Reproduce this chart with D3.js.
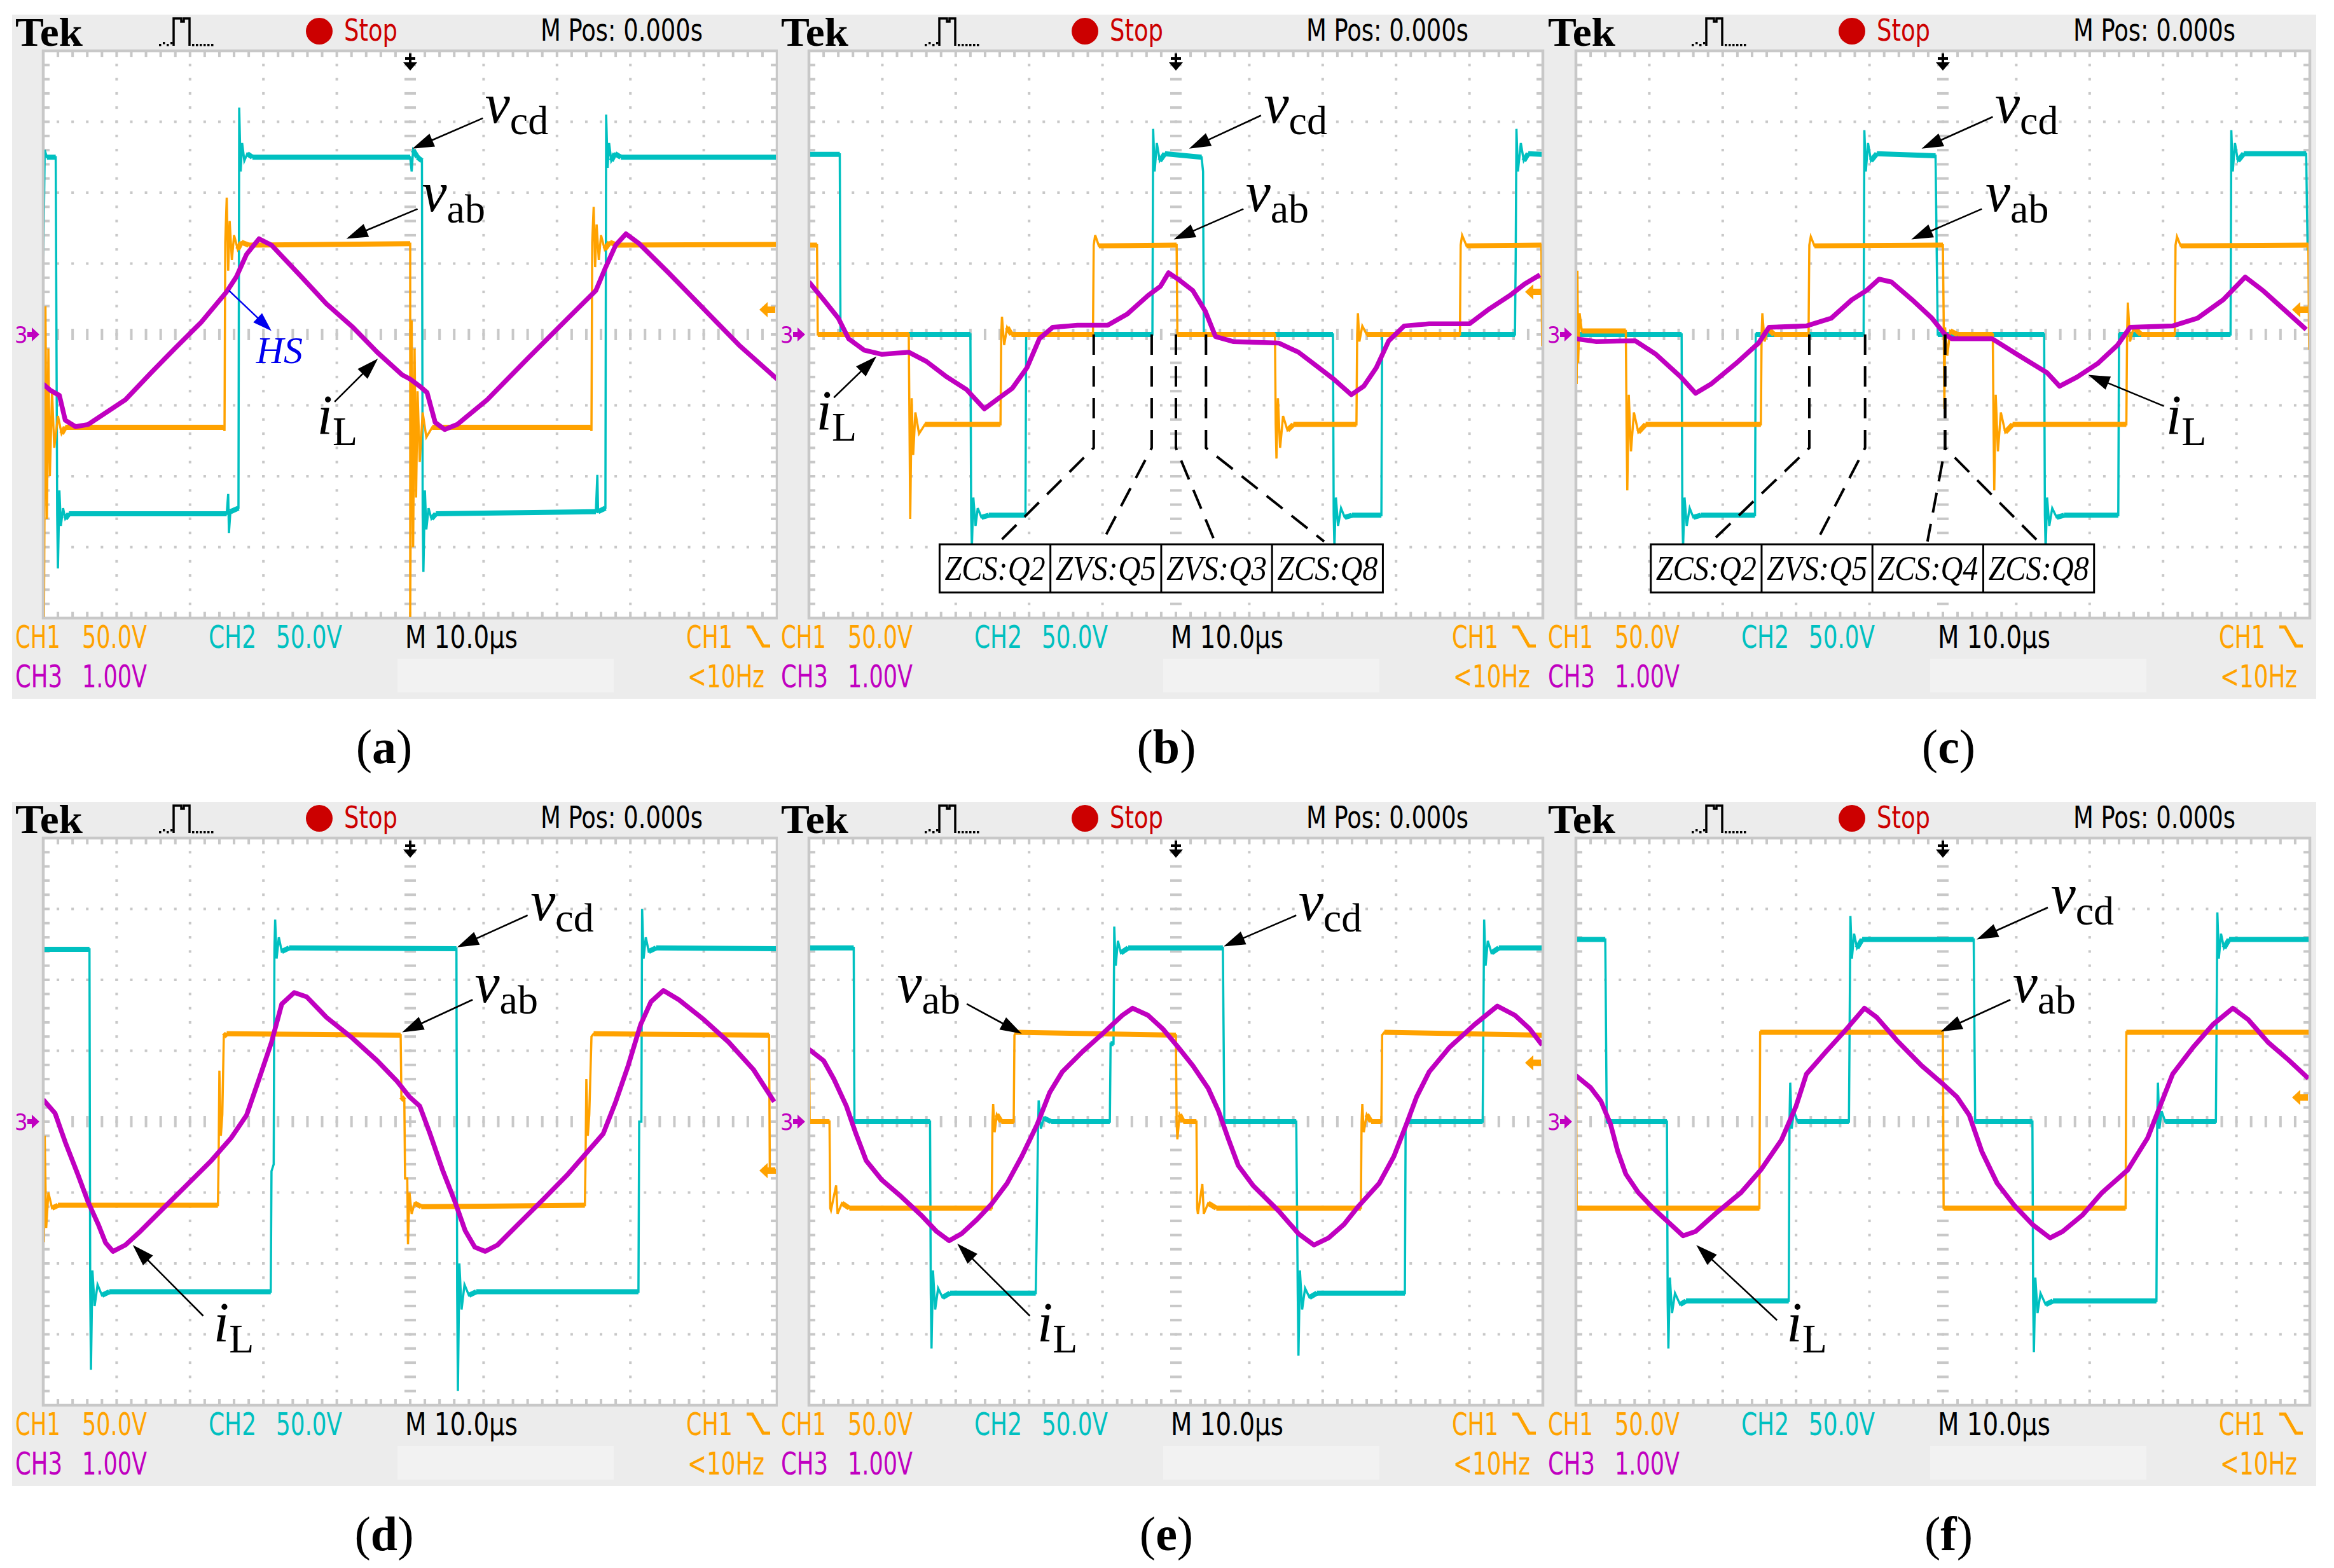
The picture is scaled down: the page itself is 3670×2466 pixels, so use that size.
<!DOCTYPE html>
<html><head><meta charset="utf-8">
<script src="https://cdn.jsdelivr.net/npm/d3@7"></script>
<style>body{margin:0;background:#fff}svg{display:block}</style>
</head><body>
<svg id="c" width="3670" height="2466"></svg>
<script>
// ---------- DATA (time in divisions 0..10, amplitude in divisions -4..4) ----------
const panelIds = ["a","b","c","d","e","f"];

const aCyan = [[0,0.9],[0.02,2.6],[0.05,2.5],[0.17,2.5],[0.19,-2.55],[0.2,-3.3],[0.22,-2.2],[0.24,-2.7],[0.27,-2.45],[0.3,-2.6],[0.35,-2.53],[2.5,-2.53],[2.52,-2.25],[2.53,-2.8],[2.55,-2.5],[2.66,-2.45],[2.67,3.2],[2.69,2.3],[2.71,2.7],[2.74,2.45],[2.78,2.55],[2.85,2.5],[5.0,2.5],[5.02,2.3],[5.04,2.6],[5.1,2.5],[5.16,2.45],[5.17,-2.55],[5.18,-3.35],[5.2,-2.2],[5.22,-2.75],[5.25,-2.45],[5.29,-2.6],[5.35,-2.53],[7.53,-2.5],[7.55,-1.98],[7.56,-2.5],[7.66,-2.45],[7.67,3.1],[7.69,2.35],[7.71,2.7],[7.74,2.45],[7.79,2.55],[7.87,2.5],[10,2.5]];
const aOrange = [[0,1.2],[0.01,-4],[0.03,0.4],[0.05,-2.6],[0.07,-0.2],[0.09,-2.0],[0.12,-0.8],[0.15,-1.6],[0.2,-1.15],[0.25,-1.4],[0.3,-1.31],[2.46,-1.31],[2.47,-1.36],[2.48,1.3],[2.5,1.93],[2.52,0.9],[2.54,1.6],[2.57,1.05],[2.6,1.4],[2.65,1.2],[2.7,1.3],[2.8,1.26],[5.0,1.28],[5.0,-4.0],[5.02,0.2],[5.04,-3.0],[5.06,-0.2],[5.08,-2.3],[5.1,-0.8],[5.13,-1.8],[5.17,-1.1],[5.22,-1.45],[5.3,-1.31],[7.46,-1.31],[7.47,-1.36],[7.48,1.3],[7.5,1.8],[7.52,0.95],[7.54,1.55],[7.57,1.05],[7.6,1.4],[7.65,1.2],[7.72,1.3],[7.82,1.26],[10,1.27]];
const aMagenta = [[0,-0.7],[0.1,-0.79],[0.22,-0.86],[0.3,-1.21],[0.44,-1.3],[0.61,-1.27],[1.12,-0.92],[1.47,-0.54],[1.81,-0.18],[2.15,0.17],[2.49,0.59],[2.63,0.81],[2.77,1.13],[2.94,1.35],[3.11,1.26],[3.52,0.81],[3.86,0.43],[4.21,0.11],[4.55,-0.25],[4.89,-0.57],[5.0,-0.63],[5.13,-0.73],[5.23,-0.82],[5.34,-1.24],[5.47,-1.34],[5.64,-1.27],[6.05,-0.92],[6.6,-0.34],[7.15,0.23],[7.53,0.62],[7.66,0.94],[7.8,1.26],[7.94,1.42],[8.11,1.29],[8.52,0.87],[9.0,0.36],[9.48,-0.15],[10,-0.63]];

const bCyan = [[0,2.54],[0.42,2.54],[0.43,0],[2.2,0],[2.21,-2.55],[2.22,-3.0],[2.24,-2.3],[2.27,-2.7],[2.3,-2.45],[2.35,-2.58],[2.45,-2.55],[2.95,-2.55],[2.96,0],[4.68,0],[4.69,2.9],[4.71,2.3],[4.74,2.7],[4.78,2.45],[4.85,2.55],[5.35,2.5],[5.37,2.3],[5.38,0],[7.14,0],[7.15,-2.55],[7.16,-3.0],[7.18,-2.3],[7.21,-2.7],[7.25,-2.45],[7.3,-2.58],[7.4,-2.55],[7.8,-2.55],[7.81,0],[9.62,0],[9.63,1.1],[9.64,2.9],[9.66,2.3],[9.7,2.7],[9.74,2.45],[9.8,2.55],[10,2.54]];
const bOrange = [[0,1.26],[0.11,1.26],[0.12,0],[1.36,0],[1.37,-1.27],[1.38,-2.6],[1.4,-0.9],[1.42,-1.7],[1.45,-1.1],[1.5,-1.4],[1.58,-1.27],[2.61,-1.27],[2.62,0],[2.63,0.25],[2.66,-0.15],[2.7,0.1],[2.76,0],[3.87,0],[3.88,1.26],[3.9,1.4],[3.95,1.25],[5.01,1.26],[5.02,0],[6.35,0],[6.36,-1.27],[6.37,-1.75],[6.39,-0.9],[6.42,-1.6],[6.46,-1.15],[6.52,-1.35],[6.6,-1.27],[7.46,-1.27],[7.47,0],[7.48,0.3],[7.5,-0.1],[7.54,0.12],[7.6,0],[8.87,0],[8.88,1.26],[8.9,1.4],[8.96,1.25],[9.98,1.26],[9.99,-0.15],[10,-0.15]];
const bMagenta = [[0,0.74],[0.2,0.49],[0.4,0.23],[0.54,-0.06],[0.75,-0.22],[0.99,-0.28],[1.36,-0.25],[1.6,-0.38],[1.88,-0.6],[2.15,-0.78],[2.39,-1.05],[2.56,-0.92],[2.77,-0.76],[2.97,-0.47],[3.14,-0.06],[3.32,0.1],[3.66,0.13],[4.07,0.13],[4.34,0.29],[4.62,0.55],[4.79,0.68],[4.9,0.87],[5.03,0.78],[5.23,0.62],[5.4,0.33],[5.54,-0.03],[5.78,-0.1],[6.4,-0.12],[6.67,-0.25],[6.95,-0.47],[7.15,-0.63],[7.39,-0.85],[7.56,-0.73],[7.73,-0.47],[7.9,-0.09],[8.11,0.12],[8.45,0.15],[9.0,0.15],[9.27,0.36],[9.55,0.55],[9.75,0.71],[9.96,0.84]];

const cCyan = [[0,0],[1.44,0],[1.45,-2.55],[1.46,-3.0],[1.48,-2.3],[1.51,-2.7],[1.55,-2.45],[1.6,-2.58],[1.7,-2.55],[2.44,-2.55],[2.45,0],[3.92,0],[3.93,2.88],[3.95,2.3],[3.98,2.7],[4.02,2.45],[4.1,2.55],[4.9,2.52],[4.93,0],[6.38,0],[6.39,-2.55],[6.4,-3.05],[6.42,-2.3],[6.45,-2.7],[6.49,-2.45],[6.55,-2.58],[6.65,-2.55],[7.39,-2.55],[7.4,0],[8.92,0],[8.93,2.88],[8.95,2.3],[8.98,2.7],[9.02,2.45],[9.1,2.55],[9.95,2.55],[9.97,1.2],[10,1.2]];
const cOrange = [[0,1.3],[0.01,-0.7],[0.02,0.9],[0.03,-0.4],[0.05,0.3],[0.08,0.05],[0.68,0.05],[0.69,-1.27],[0.7,-2.2],[0.72,-0.85],[0.75,-1.65],[0.79,-1.1],[0.85,-1.38],[0.95,-1.27],[2.52,-1.27],[2.53,0],[2.54,0.3],[2.57,-0.1],[2.62,0.08],[2.7,0],[3.17,0],[3.18,1.26],[3.2,1.38],[3.25,1.25],[5.0,1.26],[5.01,0.3],[5.02,-1.05],[5.03,0.1],[5.06,-0.3],[5.1,0.05],[5.2,0],[5.68,0],[5.69,-1.27],[5.7,-2.2],[5.72,-0.85],[5.75,-1.65],[5.79,-1.1],[5.85,-1.38],[5.95,-1.27],[7.5,-1.27],[7.51,0],[7.52,0.45],[7.55,-0.1],[7.6,0.1],[7.7,0],[8.16,0],[8.17,1.26],[8.19,1.38],[8.24,1.25],[9.98,1.26],[9.99,-0.2],[10,-0.2]];
const cMagenta = [[0,-0.06],[0.27,-0.1],[0.81,-0.09],[1.09,-0.28],[1.43,-0.6],[1.63,-0.83],[1.84,-0.7],[2.18,-0.41],[2.49,-0.12],[2.63,0.1],[3.14,0.12],[3.48,0.23],[3.76,0.49],[3.96,0.62],[4.13,0.78],[4.3,0.74],[4.58,0.49],[4.85,0.23],[5.02,0.01],[5.12,-0.06],[5.67,-0.06],[6.01,-0.28],[6.42,-0.54],[6.59,-0.73],[6.83,-0.6],[7.11,-0.41],[7.38,-0.15],[7.55,0.1],[8.13,0.12],[8.47,0.23],[8.82,0.49],[9.12,0.81],[9.36,0.62],[9.64,0.36],[9.95,0.07]];

const dCyan = [[0,2.43],[0.63,2.43],[0.64,-2.4],[0.65,-3.5],[0.67,-2.1],[0.7,-2.6],[0.74,-2.3],[0.8,-2.45],[0.9,-2.4],[3.1,-2.4],[3.11,-0.7],[3.14,-0.6],[3.15,2.44],[3.16,2.85],[3.18,2.3],[3.21,2.6],[3.25,2.4],[3.35,2.45],[5.63,2.44],[5.64,-2.4],[5.65,-3.8],[5.67,-2.0],[5.7,-2.65],[5.74,-2.3],[5.8,-2.45],[5.9,-2.4],[8.11,-2.4],[8.12,0],[8.15,0],[8.16,3.0],[8.18,2.3],[8.21,2.6],[8.25,2.4],[8.35,2.45],[10,2.44]];
const dOrange = [[0,0.74],[0.01,-1.7],[0.02,-0.2],[0.04,-1.5],[0.07,-1.0],[0.12,-1.22],[0.2,-1.18],[2.38,-1.18],[2.39,-0.5],[2.4,0.72],[2.42,-0.2],[2.44,0.1],[2.46,1.2],[2.5,1.24],[4.87,1.22],[4.88,0.35],[4.92,0.3],[4.93,-0.8],[4.96,-0.8],[4.97,-1.73],[4.99,-1.0],[5.02,-1.3],[5.06,-1.15],[5.15,-1.2],[7.38,-1.18],[7.39,-0.5],[7.4,0.6],[7.42,-0.2],[7.44,0.1],[7.47,1.2],[7.5,1.24],[9.89,1.22],[9.9,-0.7],[10,-0.7]];
const dMagenta = [[0,0.31],[0.16,0.12],[0.3,-0.29],[0.47,-0.74],[0.61,-1.13],[0.75,-1.45],[0.85,-1.71],[0.95,-1.83],[1.12,-1.74],[1.33,-1.54],[1.6,-1.26],[1.95,-0.9],[2.29,-0.55],[2.56,-0.23],[2.77,0.09],[2.94,0.6],[3.11,1.12],[3.25,1.66],[3.42,1.82],[3.59,1.76],[3.86,1.47],[4.21,1.18],[4.55,0.86],[4.82,0.57],[4.99,0.35],[5.13,0.22],[5.27,-0.17],[5.44,-0.68],[5.61,-1.13],[5.75,-1.54],[5.88,-1.77],[6.02,-1.83],[6.19,-1.74],[6.47,-1.45],[6.81,-1.1],[7.15,-0.74],[7.42,-0.42],[7.63,-0.17],[7.8,0.28],[7.97,0.79],[8.14,1.37],[8.28,1.69],[8.45,1.85],[8.66,1.72],[9.0,1.44],[9.34,1.12],[9.68,0.73],[9.96,0.28]];

const eCyan = [[0,2.45],[0.61,2.45],[0.62,0],[1.65,0],[1.66,-2.42],[1.67,-3.2],[1.69,-2.1],[1.72,-2.65],[1.76,-2.35],[1.82,-2.48],[1.92,-2.42],[3.09,-2.42],[3.1,-1.8],[3.12,-0.2],[3.13,0.3],[3.16,-0.1],[3.2,0.05],[3.3,0],[4.1,0],[4.11,1.1],[4.15,1.1],[4.16,2.75],[4.18,2.2],[4.21,2.55],[4.25,2.38],[4.35,2.45],[5.64,2.45],[5.66,0],[6.64,0],[6.66,-2.42],[6.67,-3.3],[6.69,-2.1],[6.72,-2.65],[6.76,-2.35],[6.82,-2.48],[6.92,-2.42],[8.12,-2.42],[8.13,-0.1],[8.16,0],[9.18,0],[9.2,2.85],[9.22,2.2],[9.25,2.55],[9.3,2.38],[9.4,2.45],[10,2.45]];
const eOrange = [[0,1.2],[0.01,0],[0.28,0],[0.29,-1.22],[0.3,-1.25],[0.37,-0.9],[0.39,-1.3],[0.45,-1.15],[0.55,-1.22],[2.49,-1.22],[2.5,0],[2.51,0.25],[2.53,-0.15],[2.56,0.1],[2.62,0],[2.79,0],[2.8,1.22],[2.82,1.26],[5.0,1.22],[5.01,0],[5.02,-0.25],[5.05,0.1],[5.1,0],[5.28,0],[5.29,-1.22],[5.3,-1.3],[5.36,-0.88],[5.38,-1.3],[5.44,-1.15],[5.55,-1.22],[7.52,-1.22],[7.53,0],[7.54,0.25],[7.56,-0.15],[7.6,0.1],[7.66,0],[7.8,0],[7.81,1.22],[7.84,1.26],[10,1.22]];
const eMagenta = [[0,1.02],[0.2,0.86],[0.34,0.6],[0.51,0.22],[0.64,-0.17],[0.78,-0.55],[0.99,-0.82],[1.26,-1.06],[1.53,-1.32],[1.74,-1.55],[1.91,-1.68],[2.08,-1.58],[2.29,-1.38],[2.49,-1.16],[2.7,-0.87],[2.9,-0.49],[3.11,-0.04],[3.28,0.41],[3.45,0.7],[3.73,0.99],[4.0,1.24],[4.27,1.5],[4.41,1.6],[4.62,1.5],[4.82,1.31],[5.03,1.05],[5.23,0.79],[5.44,0.47],[5.58,0.15],[5.71,-0.23],[5.85,-0.62],[6.05,-0.9],[6.4,-1.26],[6.67,-1.58],[6.88,-1.74],[7.08,-1.64],[7.29,-1.45],[7.49,-1.19],[7.77,-0.87],[7.97,-0.49],[8.14,-0.04],[8.28,0.35],[8.45,0.7],[8.73,1.05],[9.07,1.37],[9.38,1.63],[9.62,1.5],[9.82,1.31],[9.99,1.08]];

const fCyan = [[0,2.57],[0.4,2.57],[0.42,0],[1.24,0],[1.25,-2.53],[1.26,-3.2],[1.28,-2.2],[1.31,-2.7],[1.35,-2.42],[1.42,-2.58],[1.5,-2.53],[2.9,-2.53],[2.91,0],[2.92,0.55],[2.94,-0.1],[2.97,0.15],[3.02,0],[3.72,0],[3.74,2.9],[3.76,2.3],[3.79,2.65],[3.83,2.45],[3.9,2.57],[5.42,2.57],[5.44,0],[6.22,0],[6.23,-2.53],[6.24,-3.25],[6.26,-2.2],[6.29,-2.7],[6.33,-2.42],[6.4,-2.58],[6.5,-2.53],[7.91,-2.53],[7.92,0],[7.93,0.55],[7.95,-0.1],[7.98,0.15],[8.03,0],[8.72,0],[8.74,2.95],[8.76,2.3],[8.79,2.65],[8.83,2.45],[8.9,2.57],[10,2.57]];
const fOrange = [[0,1.26],[0.01,-1.22],[2.5,-1.22],[2.51,1.26],[5.0,1.26],[5.01,-1.22],[7.49,-1.22],[7.5,1.26],[10,1.26]];
const fMagenta = [[0,0.65],[0.2,0.48],[0.34,0.29],[0.47,-0.03],[0.57,-0.42],[0.68,-0.74],[0.85,-1.0],[1.05,-1.22],[1.26,-1.42],[1.46,-1.61],[1.63,-1.55],[1.91,-1.29],[2.25,-1.0],[2.52,-0.68],[2.8,-0.26],[3.0,0.22],[3.14,0.67],[3.41,0.99],[3.69,1.31],[3.93,1.6],[4.1,1.47],[4.37,1.15],[4.71,0.79],[4.99,0.54],[5.19,0.35],[5.36,0.09],[5.53,-0.42],[5.74,-0.87],[5.98,-1.19],[6.22,-1.45],[6.46,-1.64],[6.63,-1.55],[6.9,-1.32],[7.17,-1.0],[7.52,-0.68],[7.79,-0.23],[7.96,0.22],[8.13,0.67],[8.41,1.05],[8.68,1.37],[8.95,1.6],[9.16,1.44],[9.43,1.12],[9.71,0.87],[9.98,0.61]];

const cyanSeries = [aCyan,bCyan,cCyan,dCyan,eCyan,fCyan];
const orangeSeries = [aOrange,bOrange,cOrange,dOrange,eOrange,fOrange];
const magentaSeries = [aMagenta,bMagenta,cMagenta,dMagenta,eMagenta,fMagenta];
const triggerLevels = [0.35,0.6,0.35,-0.69,0.83,0.34];

// annotation anchors (divisions)
const vcdText = [[6.02,2.99],[6.2,2.99],[5.71,2.99],[6.64,2.84],[6.67,2.84],[6.47,2.94]];
const vcdArrow = [[5.99,3.05,5.03,2.62],[6.16,3.09,5.18,2.62],[5.68,3.07,4.71,2.62],[6.6,2.91,5.64,2.46],[6.64,2.91,5.65,2.47],[6.43,3.02,5.46,2.57]];
const vabText = [[5.16,1.74],[5.95,1.74],[5.58,1.74],[5.88,1.69],[1.2,1.69],[5.95,1.69]];
const vabArrow = [[5.1,1.77,4.13,1.35],[5.92,1.77,4.97,1.34],[5.53,1.77,4.57,1.34],[5.85,1.72,4.89,1.26],[2.15,1.66,2.9,1.24],[5.92,1.72,4.97,1.27]];
const iLText = [[3.73,-1.4],[0.1,-1.34],[8.04,-1.4],[2.32,-3.09],[3.11,-3.09],[2.87,-3.09]];
const iLArrow = [[3.97,-0.95,4.56,-0.34],[0.34,-0.89,0.92,-0.31],[8.01,-1.01,6.98,-0.57],[2.18,-2.74,1.22,-1.74],[3.01,-2.74,2.02,-1.72],[2.74,-2.8,1.64,-1.74]];
const hsText = [2.9,-0.4];
const hsArrow = [2.53,0.62,3.11,0.05];

// switching annotations: [vertical x, box end x]
const bDash = [[3.88,2.6],[4.67,4.0],[5.0,5.53],[5.41,7.02]];
const cDash = [[3.18,1.85],[3.94,3.28],[5.03,4.79],[5.03,6.3]];
const bBoxRange = [1.78,7.82];
const cBoxRange = [1.02,7.06];
const bBoxLabels = ["ZCS:Q2","ZVS:Q5","ZVS:Q3","ZCS:Q8"];
const cBoxLabels = ["ZCS:Q2","ZVS:Q5","ZCS:Q4","ZCS:Q8"];

// scope readout texts
const headerTexts = ["Tek","Stop","M Pos: 0.000s"];
const statusTexts = ["CH1","50.0V","CH2","50.0V","M 10.0\u00b5s","CH1","CH3","1.00V","<10Hz"];

// ---------- DRAWING ----------
const svg = d3.select("#c");
const ORANGE="#ffa200", CYAN="#00c0c0", MAGENTA="#c000c0", GRID="#c8c8c8", PANEL="#ececec", RED="#cc0000";
const serif = "'Liberation Serif','Times New Roman',serif";
const scopeFont = "'Liberation Sans Narrow','DejaVu Sans Condensed','Liberation Sans',sans-serif";
const colL = [68,1272,2478], rowT = [80,1318];
const PW = 1154, PH = 892;

function arrow(g,x1,y1,x2,y2,col,hl=34,hw=11,sw=2.6){
  const dx=x2-x1, dy=y2-y1, len=Math.hypot(dx,dy), ux=dx/len, uy=dy/len;
  const bx=x2-ux*hl, by=y2-uy*hl;
  g.append("line").attr("x1",x1).attr("y1",y1).attr("x2",bx+ux*3).attr("y2",by+uy*3)
    .attr("stroke",col).attr("stroke-width",sw);
  g.append("polygon").attr("points",[[x2,y2],[bx-uy*hw,by+ux*hw],[bx+uy*hw,by-ux*hw]].map(p=>p.join(",")).join(" "))
    .attr("fill",col);
}
function subLabel(g,X,Y,main,sub){
  const t=g.append("text").attr("x",X).attr("y",Y).attr("font-family",serif).attr("fill","#000");
  t.append("tspan").attr("font-style","italic").attr("font-size",88).text(main);
  t.append("tspan").attr("font-size",64).attr("dy",18).text(sub);
}
function stext(g,str,x,y,w,col,size=50){
  return g.append("text").attr("x",x).attr("y",y).attr("font-family",scopeFont).attr("font-size",size)
    .attr("fill",col).attr("textLength",w).attr("lengthAdjust","spacingAndGlyphs").text(str);
}

panelIds.forEach((id,i)=>{
  const L=colL[i%3], T=rowT[Math.floor(i/3)];
  const x=d3.scaleLinear().domain([0,10]).range([L,L+PW]);
  const y=d3.scaleLinear().domain([-4,4]).range([T+PH,T]);
  const g=svg.append("g");
  // panel
  g.append("rect").attr("x",L-49).attr("y",T-57).attr("width",1213).attr("height",1076).attr("fill",PANEL);
  g.append("rect").attr("x",L+557).attr("y",T+956).attr("width",340).attr("height",53).attr("fill","#f2f2f2");
  // header
  g.append("text").attr("x",L-44).attr("y",T-8).attr("font-family",serif).attr("font-weight","bold")
    .attr("font-size",64).attr("textLength",106).attr("lengthAdjust","spacingAndGlyphs").text(headerTexts[0]);
  // pulse icon
  const px=L+182, pb=T-8, ptop=T-51;
  g.append("path").attr("d",`M${px+23},${pb} V${ptop} H${px+35} V${ptop+5} H${px+39} V${ptop} H${px+48} V${pb}`)
    .attr("fill","none").attr("stroke","#000").attr("stroke-width",3.5);
  d3.range(0,22,6).forEach(k=>g.append("rect").attr("x",px+k).attr("y",pb-3-(k%12?3:0)).attr("width",3.5).attr("height",3.5).attr("fill","#000"));
  d3.range(52,84,6).forEach(k=>g.append("rect").attr("x",px+k).attr("y",pb-3-(k%12?0:3)).attr("width",3.5).attr("height",3.5).attr("fill","#000"));
  g.append("circle").attr("cx",L+434).attr("cy",T-31).attr("r",21).attr("fill",RED);
  stext(g,headerTexts[1],L+473,T-16,84,RED,48);
  stext(g,headerTexts[2],L+782,T-16,255,"#000",48);
  // status rows
  const r1=T+939, r2=T+1001;
  stext(g,statusTexts[0],L-44,r1,71,ORANGE);
  stext(g,statusTexts[1],L+61,r1,102,ORANGE);
  stext(g,statusTexts[2],L+260,r1,75,CYAN);
  stext(g,statusTexts[3],L+366,r1,104,CYAN);
  stext(g,statusTexts[4],L+569,r1,177,"#000");
  stext(g,statusTexts[5],L+1011,r1,73,ORANGE);
  g.append("path").attr("d",`M${L+1106},${r1-33} H${L+1115} L${L+1132},${r1-3} H${L+1143}`)
    .attr("fill","none").attr("stroke",ORANGE).attr("stroke-width",5);
  stext(g,statusTexts[6],L-44,r2,74,MAGENTA);
  stext(g,statusTexts[7],L+61,r2,102,MAGENTA);
  stext(g,statusTexts[8],L+1013,r2,121,ORANGE);

  // plot area
  g.append("rect").attr("x",L).attr("y",T).attr("width",PW).attr("height",PH).attr("fill","#fff");
  const gg=g.append("g").attr("fill",GRID);
  for(let k=1;k<10;k++){ if(k===5) continue;
    for(let j=1;j<40;j++) gg.append("rect").attr("x",x(k)-2).attr("y",T+j*PH/40-2).attr("width",4).attr("height",4);
  }
  for(let k=-3;k<=3;k++){ if(k===0) continue;
    for(let j=1;j<50;j++) gg.append("rect").attr("x",L+j*PW/50-2).attr("y",y(k)-2).attr("width",4).attr("height",4);
  }
  for(let j=1;j<50;j++){
    gg.append("rect").attr("x",L+j*PW/50-2).attr("y",y(0)-9).attr("width",4).attr("height",18);
    gg.append("rect").attr("x",L+j*PW/50-2).attr("y",T).attr("width",4).attr("height",10);
    gg.append("rect").attr("x",L+j*PW/50-2).attr("y",T+PH-10).attr("width",4).attr("height",10);
  }
  for(let j=1;j<40;j++){
    gg.append("rect").attr("x",x(5)-9).attr("y",T+j*PH/40-2).attr("width",18).attr("height",4);
    gg.append("rect").attr("x",L).attr("y",T+j*PH/40-2).attr("width",10).attr("height",4);
    gg.append("rect").attr("x",L+PW-10).attr("y",T+j*PH/40-2).attr("width",10).attr("height",4);
  }
  g.append("rect").attr("x",L).attr("y",T).attr("width",PW).attr("height",PH).attr("fill","none")
    .attr("stroke",GRID).attr("stroke-width",4.5);

  // traces
  const clipId="clip"+id;
  g.append("clipPath").attr("id",clipId).append("rect").attr("x",L+2).attr("y",T+2).attr("width",PW-4).attr("height",PH-4);
  const tg=g.append("g").attr("clip-path",`url(#${clipId})`);
  const line=d3.line().x(d=>x(d[0])).y(d=>y(d[1]));
  const band=(data,col,w)=>{
    const segs=d3.pairs(data).filter(([p,q])=>Math.abs(q[0]-p[0])>0.04 && Math.abs(q[1]-p[1])<0.12);
    tg.selectAll(null).data(segs).enter().append("line")
      .attr("x1",d=>x(d[0][0])).attr("y1",d=>y(d[0][1])).attr("x2",d=>x(d[1][0])).attr("y2",d=>y(d[1][1]))
      .attr("stroke",col).attr("stroke-width",w);
  };
  tg.append("path").datum(cyanSeries[i]).attr("d",line).attr("fill","none").attr("stroke",CYAN).attr("stroke-width",3.5);
  band(cyanSeries[i],CYAN,8);
  tg.append("path").datum(orangeSeries[i]).attr("d",line).attr("fill","none").attr("stroke",ORANGE).attr("stroke-width",3.5);
  band(orangeSeries[i],ORANGE,8);
  tg.append("path").datum(magentaSeries[i]).attr("d",line).attr("fill","none").attr("stroke",MAGENTA)
    .attr("stroke-width",7.5).attr("stroke-linejoin","round");

  // markers
  const tx=x(5);
  g.append("path").attr("d",`M${tx},${T+4} V${T+20} M${tx-8},${T+12} H${tx+8}`).attr("stroke","#000").attr("stroke-width",4);
  g.append("polygon").attr("points",`${tx-11},${T+18} ${tx+11},${T+18} ${tx},${T+31}`).attr("fill","#000");
  g.append("text").attr("x",L-45).attr("y",y(0)+13).attr("font-family",scopeFont).attr("font-size",36)
    .attr("fill",MAGENTA).text("3");
  g.append("polygon").attr("points",`${L-25},${y(0)-4} ${L-18},${y(0)-4} ${L-18},${y(0)-11} ${L-6},${y(0)} ${L-18},${y(0)+11} ${L-18},${y(0)+4} ${L-25},${y(0)+4}`).attr("fill",MAGENTA);
  const ty=y(triggerLevels[i]);
  g.append("polygon").attr("points",`${L+PW-28},${ty} ${L+PW-15},${ty-12} ${L+PW-15},${ty-5} ${L+PW-3},${ty-5} ${L+PW-3},${ty+5} ${L+PW-15},${ty+5} ${L+PW-15},${ty+12}`).attr("fill",ORANGE);

  // annotations
  const ag=g.append("g");
  subLabel(ag,x(vcdText[i][0]),y(vcdText[i][1]),"v","cd");
  arrow(ag,x(vcdArrow[i][0]),y(vcdArrow[i][1]),x(vcdArrow[i][2]),y(vcdArrow[i][3]),"#000");
  subLabel(ag,x(vabText[i][0]),y(vabText[i][1]),"v","ab");
  arrow(ag,x(vabArrow[i][0]),y(vabArrow[i][1]),x(vabArrow[i][2]),y(vabArrow[i][3]),"#000");
  subLabel(ag,x(iLText[i][0]),y(iLText[i][1]),"i","L");
  arrow(ag,x(iLArrow[i][0]),y(iLArrow[i][1]),x(iLArrow[i][2]),y(iLArrow[i][3]),"#000");
  if(id==="a"){
    ag.append("text").attr("x",x(hsText[0])).attr("y",y(hsText[1])).attr("font-family",serif).attr("font-style","italic")
      .attr("font-size",60).attr("fill","#0000ee").text("HS");
    arrow(ag,x(hsArrow[0]),y(hsArrow[1]),x(hsArrow[2]),y(hsArrow[3]),"#0000ee",30,10,2.4);
  }
  if(id==="b"||id==="c"){
    const dash = id==="b"?bDash:cDash, rng=id==="b"?bBoxRange:cBoxRange, labs=id==="b"?bBoxLabels:cBoxLabels;
    dash.forEach(([vx,ex])=>{
      ag.append("path").attr("d",`M${x(vx)},${y(0)} V${y(-1.6)} L${x(ex)},${y(-2.92)}`)
        .attr("fill","none").attr("stroke","#000").attr("stroke-width",4).attr("stroke-dasharray","32,18");
    });
    const bw=(rng[1]-rng[0])/4;
    ag.append("rect").attr("x",x(rng[0])).attr("y",y(-2.96)).attr("width",x(rng[1])-x(rng[0])).attr("height",y(-3.64)-y(-2.96))
      .attr("fill","#fff").attr("stroke","#000").attr("stroke-width",3);
    labs.forEach((s,k)=>{
      const cx0=rng[0]+bw*k;
      if(k>0) ag.append("line").attr("x1",x(cx0)).attr("x2",x(cx0)).attr("y1",y(-2.96)).attr("y2",y(-3.64)).attr("stroke","#000").attr("stroke-width",3);
      ag.append("text").attr("x",x(cx0+bw/2)).attr("y",y(-3.46)).attr("text-anchor","middle").attr("font-family",serif)
        .attr("font-style","italic").attr("font-size",54).attr("textLength",x(bw)-x(0)-16).attr("lengthAdjust","spacingAndGlyphs").text(s);
    });
  }
});

// sub-figure labels
const labelX=[604,1834,3064], labelY=[1200,2438];
panelIds.forEach((id,i)=>{
  const t=svg.append("text").attr("x",labelX[i%3]).attr("y",labelY[Math.floor(i/3)]).attr("text-anchor","middle")
    .attr("font-family",serif).attr("font-size",76);
  t.append("tspan").text("(");
  t.append("tspan").attr("font-weight","bold").text(id);
  t.append("tspan").text(")");
});
</script>
</body></html>
